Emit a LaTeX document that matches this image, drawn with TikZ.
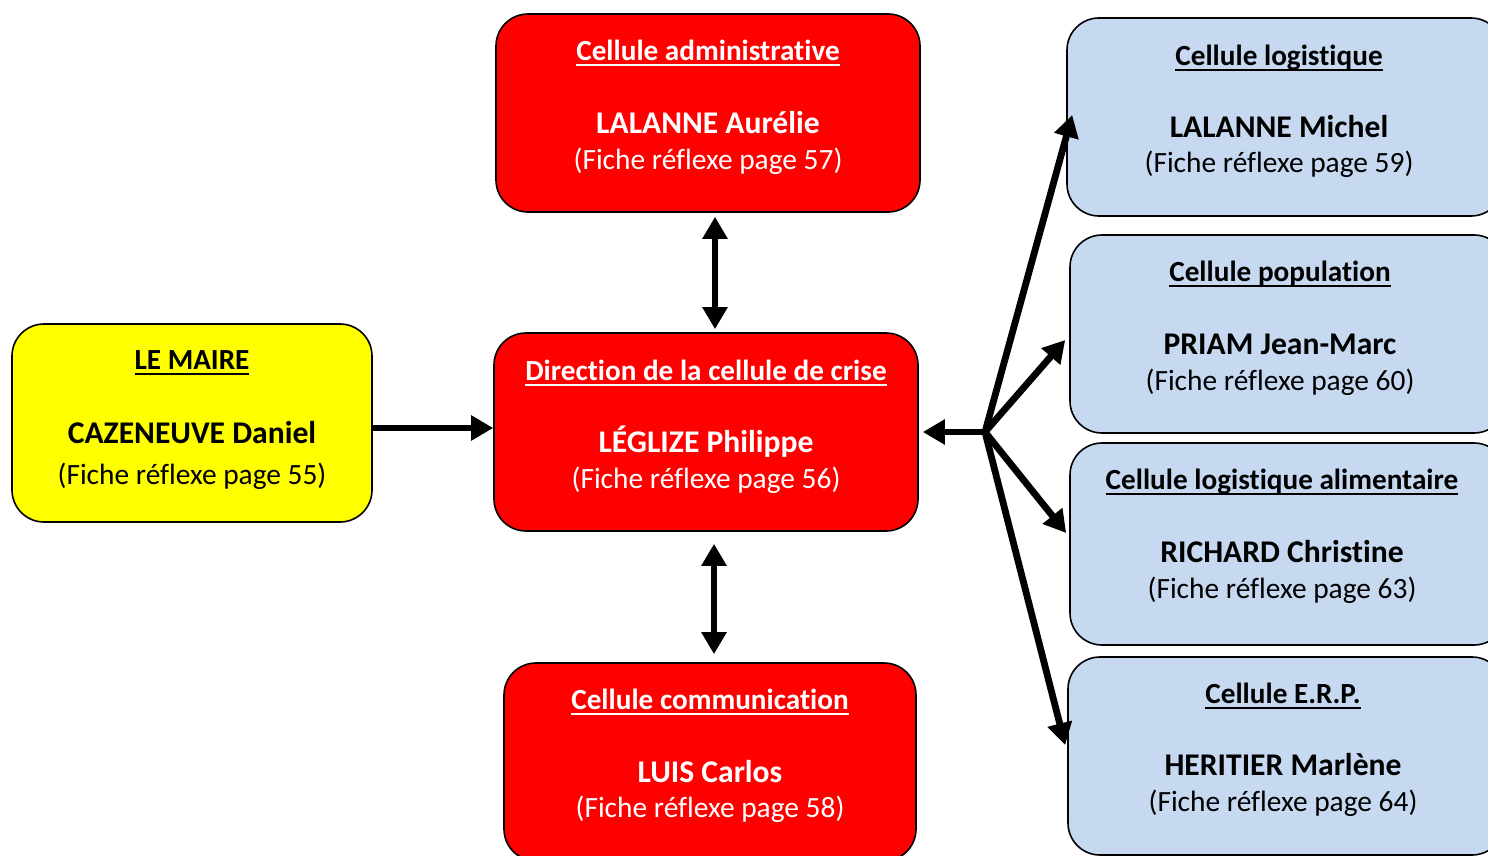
\documentclass[tikz,border=0pt]{standalone}
\usepackage{fontspec}
\setmainfont{Carlito}[Ligatures={NoCommon,NoRare,NoDiscretionary}]
\usetikzlibrary{arrows.meta,calc}
\definecolor{cred}{HTML}{FF0000}
\definecolor{cyel}{HTML}{FFFF00}
\definecolor{cblue}{HTML}{C6D9F1}
\newcommand{\ttl}[1]{\setbox0\hbox{#1}\rlap{\rule[-2.6pt]{\wd0}{1pt}}\box0}
\tikzset{
  box/.style={draw=black, line width=0.8pt, rounded corners=16pt, minimum width=212pt, minimum height=99pt, inner sep=0pt},
  redbox/.style={box, fill=cred},
  yelbox/.style={box, fill=cyel},
  bluebox/.style={box, fill=cblue, minimum width=218pt},
  ttxt/.style={inner sep=0pt, font=\fontsize{14.6}{16}\selectfont\bfseries},
  ntxt/.style={inner sep=0pt, font=\fontsize{15.8}{18}\selectfont\bfseries},
  ftxt/.style={inner sep=0pt, font=\fontsize{14.7}{17}\selectfont},
  wt/.style={text=white},
  arr/.style={line width=3.4pt, -{Triangle[length=11pt,width=12pt]}},
  darr/.style={line width=3.4pt, {Triangle[length=11pt,width=12pt]}-{Triangle[length=11pt,width=12pt]}}
}
\begin{document}
\begin{tikzpicture}[x=0.5pt,y=-0.5pt]
\useasboundingbox (0,0) rectangle (1488,856);
\clip (0,0) rectangle (1488,856);
\fill[white] (0,0) rectangle (1488,856);
% boxes
\node[yelbox, minimum width=180pt] (maire) at (192,423) {};
\node[redbox] (dir) at (706,432) {};
\node[redbox] (admin) at (708,113) {};
\node[redbox, minimum width=206pt] (comm) at (710,762) {};
\node[bluebox] (log) at (1285,117) {};
\node[bluebox] (pop) at (1288,334) {};
\node[bluebox, minimum height=101pt] (ali) at (1288,544) {};
\node[bluebox] (erp) at (1286,756) {};
% texts
\node[ttxt] (maire1) at (192,363) {\ttl{LE MAIRE}};
\node[ntxt] (maire2) at (192,433) {CAZENEUVE Daniel};
\node[ftxt] (maire3) at (192,476) {(Fiche réflexe page 55)};
\node[ttxt,wt] (dir1) at (706,373) {\ttl{Direction de la cellule de crise}};
\node[ntxt,wt] (dir2) at (706,442) {LÉGLIZE Philippe};
\node[ftxt,wt] (dir3) at (706,480) {(Fiche réflexe page 56)};
\node[ttxt,wt] (admin1) at (708,53) {\ttl{Cellule administrative}};
\node[ntxt,wt] (admin2) at (708,123) {LALANNE Aurélie};
\node[ftxt,wt] (admin3) at (708,161) {(Fiche réflexe page 57)};
\node[ttxt,wt] (comm1) at (710,702) {\ttl{Cellule communication}};
\node[ntxt,wt] (comm2) at (710,772) {LUIS Carlos};
\node[ftxt,wt] (comm3) at (710,809) {(Fiche réflexe page 58)};
\node[ttxt] (log1) at (1279,58) {\ttl{Cellule logistique}};
\node[ntxt] (log2) at (1279,127) {LALANNE Michel};
\node[ftxt] (log3) at (1279,164) {(Fiche réflexe page 59)};
\node[ttxt] (pop1) at (1280,274) {\ttl{Cellule population}};
\node[ntxt] (pop2) at (1280,344) {PRIAM Jean-Marc};
\node[ftxt] (pop3) at (1280,382) {(Fiche réflexe page 60)};
\node[ttxt] (ali1) at (1282,482) {\ttl{Cellule logistique alimentaire}};
\node[ntxt] (ali2) at (1282,552) {RICHARD Christine};
\node[ftxt] (ali3) at (1282,590) {(Fiche réflexe page 63)};
\node[ttxt] (erp1) at (1283,696) {\ttl{Cellule E.R.P.}};
\node[ntxt] (erp2) at (1283,765) {HERITIER Marlène};
\node[ftxt] (erp3) at (1283,803) {(Fiche réflexe page 64)};
% connectors
\coordinate (j) at (985,432);
\draw[arr] ($(maire.east)+(0,5)$) -- ($(dir.west)+(0,-4)$);
\draw[darr] ($(admin.south)+(7,4)$) -- ($(dir.north)+(9,-3)$);
\draw[darr] ($(dir.south)+(8,12)$) -- ($(comm.north)+(4,-8)$);
\draw[arr] (j) -- ($(dir.east)+(4,0)$);
\draw[arr] (j) -- ($(log.west)+(6,-2)$);
\draw[arr] (j) -- ($(pop.west)+(-4,6)$);
\draw[arr] (j) -- ($(ali.west)+(-3,-11)$);
\draw[arr] (j) -- ($(erp.west)+(-2,-11)$);
\end{tikzpicture}
\end{document}
